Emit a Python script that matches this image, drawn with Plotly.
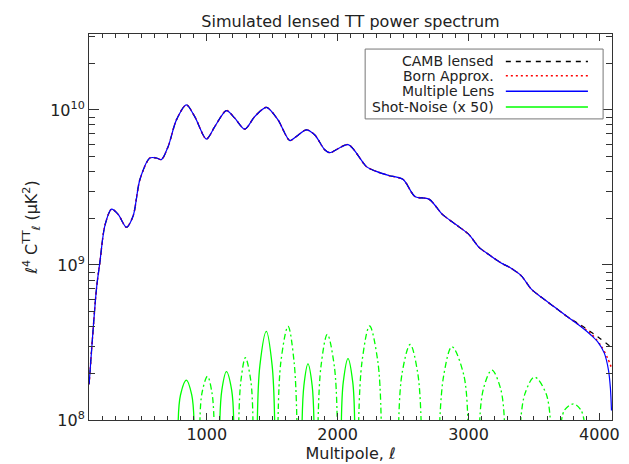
import plotly.graph_objects as go

# lensed TT spectrum, l^4 C_l (shared part of all three curves)
ell_main = [101, 157, 183, 221, 272, 323, 386, 437, 489, 565, 615, 653, 705, 768,
            844, 908, 997, 1061, 1150, 1214, 1290, 1366, 1455, 1544, 1634, 1684,
            1760, 1824, 1901, 1940, 2080, 2220, 2300, 2390, 2500, 2590, 2700, 2800,
            2900, 3000, 3080, 3147, 3249, 3313, 3402, 3478, 3554, 3657, 3758]
cl_main = [1.7e8, 7.0e8, 1.04e9, 1.79e9, 2.29e9, 2.12e9, 1.75e9, 2.07e9, 3.56e9,
           4.90e9, 4.90e9, 4.78e9, 5.82e9, 8.63e9, 1.08e10, 9.06e9, 6.49e9, 7.81e9,
           9.91e9, 8.85e9, 7.52e9, 9.06e9, 1.04e10, 8.63e9, 6.35e9, 6.74e9, 7.45e9,
           6.92e9, 5.54e9, 5.30e9, 5.97e9, 4.31e9, 4.00e9, 3.78e9, 3.56e9, 2.77e9,
           2.65e9, 2.12e9, 1.83e9, 1.58e9, 1.30e9, 1.18e9, 1.03e9, 9.66e8, 8.53e8,
           7.01e8, 6.21e8, 5.35e8, 4.62e8]

# high-l tails where the three curves separate
ell_camb_tail = [3860, 3987, 4077, 4096]
cl_camb_tail = [4.08e8, 3.44e8, 3.01e8, 2.94e8]
ell_born_tail = [3860, 3937, 4013, 4064, 4094]
cl_born_tail = [4.02e8, 3.60e8, 3.00e8, 2.49e8, 2.15e8]
ell_mult_tail = [3860, 3937, 3987, 4038, 4069, 4084, 4092]
cl_mult_tail = [3.99e8, 3.52e8, 3.19e8, 2.69e8, 2.10e8, 1.60e8, 1.15e8]

# shot noise (x 50): one arch per entry, foot / shoulder / peak / shoulder / foot
noise_pos_ell = [[781, 799, 844, 885, 903], [1099, 1115, 1150, 1190, 1206],
                 [1386, 1406, 1455, 1499, 1519], [1728, 1742, 1773, 1805, 1819],
                 [2028, 2043, 2079, 2115, 2130]]
noise_pos_val = [[0.95e8, 1.45e8, 1.81e8, 1.45e8, 0.95e8], [0.95e8, 1.56e8, 2.05e8, 1.56e8, 0.95e8],
                 [0.95e8, 2.26e8, 3.73e8, 2.26e8, 0.95e8], [0.95e8, 1.67e8, 2.30e8, 1.67e8, 0.95e8],
                 [0.95e8, 1.76e8, 2.49e8, 1.76e8, 0.95e8]]
noise_neg_ell = [[947, 963, 1005, 1040, 1056], [1244, 1260, 1295, 1337, 1353],
                 [1544, 1566, 1621, 1667, 1689], [1850, 1872, 1921, 1975, 1997],
                 [2160, 2186, 2244, 2307, 2333], [2466, 2492, 2554, 2612, 2638],
                 [2779, 2811, 2873, 2963, 2995], [3084, 3113, 3178, 3246, 3275],
                 [3397, 3431, 3504, 3592, 3626], [3707, 3734, 3802, 3859, 3886]]
noise_neg_val = [[0.95e8, 1.49e8, 1.91e8, 1.49e8, 0.95e8], [0.95e8, 1.77e8, 2.52e8, 1.77e8, 0.95e8],
                 [0.95e8, 2.37e8, 4.02e8, 2.37e8, 0.95e8], [0.95e8, 2.20e8, 3.57e8, 2.20e8, 0.95e8],
                 [0.95e8, 2.38e8, 4.04e8, 2.38e8, 0.95e8], [0.95e8, 2.00e8, 3.07e8, 2.00e8, 0.95e8],
                 [0.95e8, 1.96e8, 2.97e8, 1.96e8, 0.95e8], [0.95e8, 1.58e8, 2.10e8, 1.58e8, 0.95e8],
                 [0.95e8, 1.48e8, 1.89e8, 1.48e8, 0.95e8], [0.95e8, 1.16e8, 1.27e8, 1.16e8, 0.95e8]]

legend_names = ["CAMB lensed", "Born Approx.", "Multiple Lens", "Shot-Noise (x 50)"]

FONT = "DejaVu Sans"
INK = "#222222"


def arches(ells, vals):
    xs, ys = [], []
    for e, v in zip(ells, vals):
        xs += e + [None]
        ys += v + [None]
    return xs, ys


fig = go.Figure()

fig.add_trace(go.Scatter(x=ell_main + ell_camb_tail, y=cl_main + cl_camb_tail, mode="lines",
                         line=dict(color="black", width=1.2, dash="5px,5px", shape="spline", smoothing=0.8)))
fig.add_trace(go.Scatter(x=ell_main + ell_born_tail, y=cl_main + cl_born_tail, mode="lines",
                         line=dict(color="red", width=1.5, dash="2px,3px", shape="spline", smoothing=0.8)))
fig.add_trace(go.Scatter(x=ell_main + ell_mult_tail, y=cl_main + cl_mult_tail, mode="lines",
                         line=dict(color="blue", width=1.2, shape="spline", smoothing=0.8)))

px, py = arches(noise_pos_ell, noise_pos_val)
fig.add_trace(go.Scatter(x=px, y=py, mode="lines", connectgaps=False,
                         line=dict(color="#00ff00", width=1.3, shape="spline", smoothing=1)))
nx, ny = arches(noise_neg_ell, noise_neg_val)
fig.add_trace(go.Scatter(x=nx, y=ny, mode="lines", connectgaps=False,
                         line=dict(color="#00ff00", width=1.3, dash="6px,3px,2px,3px", shape="spline", smoothing=1)))

# hand-made legend: text on the left, line sample on the right (IDL style)
row_y = [0.929, 0.892, 0.852, 0.811]
row_style = [dict(color="black", width=1.5, dash="5px,5px"),
             dict(color="red", width=1.5, dash="2px,3px"),
             dict(color="blue", width=1.5),
             dict(color="#00ff00", width=1.5)]
fig.add_shape(type="rect", xref="paper", yref="paper", x0=0.528, x1=0.983, y0=0.780, y1=0.961,
              line=dict(color="#777777", width=1), fillcolor="white")
for name, yy, st in zip(legend_names, row_y, row_style):
    fig.add_annotation(x=0.778, y=yy, xref="paper", yref="paper", text=name, showarrow=False,
                       xanchor="right", yanchor="middle", font=dict(family=FONT, size=14, color=INK))
    fig.add_shape(type="line", xref="paper", yref="paper", x0=0.797, x1=0.954, y0=yy, y1=yy, line=st)

fig.update_layout(
    width=629, height=464,
    margin=dict(l=81, r=25, t=26, b=52),
    paper_bgcolor="white", plot_bgcolor="white",
    showlegend=False,
    font=dict(family=FONT, size=16, color=INK),
    title=dict(text="Simulated lensed TT power spectrum", x=0.5, xref="paper", xanchor="center",
               y=1 - 13 / 464, yref="container", yanchor="middle",
               font=dict(family=FONT, size=16, color=INK)),
)

fig.update_xaxes(
    range=[100, 4096], showgrid=False, zeroline=False,
    showline=True, linecolor="#333333", linewidth=1, mirror="ticks",
    ticks="inside", ticklen=7, tickcolor="#333333",
    tickvals=[1000, 2000, 3000, 4000], ticktext=["1000", "2000", "3000", "4000"],
    minor=dict(ticks="inside", ticklen=4, dtick=100, tickcolor="#333333", showgrid=False),
    title=dict(text="Multipole, ℓ", standoff=4, font=dict(size=16)),
)
fig.update_yaxes(
    type="log", range=[8, 10.49], showgrid=False, zeroline=False,
    showline=True, linecolor="#333333", linewidth=1, mirror="ticks",
    ticks="inside", ticklen=10, tickcolor="#333333",
    tickvals=[1e8, 1e9, 1e10], ticktext=["10<sup>8</sup>", "10<sup>9</sup>", "10<sup>10</sup>"],
    minor=dict(ticks="inside", ticklen=6, dtick="D1", tickcolor="#333333", showgrid=False),
    title=dict(text="ℓ<sup>4</sup> C<sup>TT</sup><sub>ℓ</sub> (μK<sup>2</sup>)", standoff=8, font=dict(size=16)),
)

fig.write_html("out.html")
